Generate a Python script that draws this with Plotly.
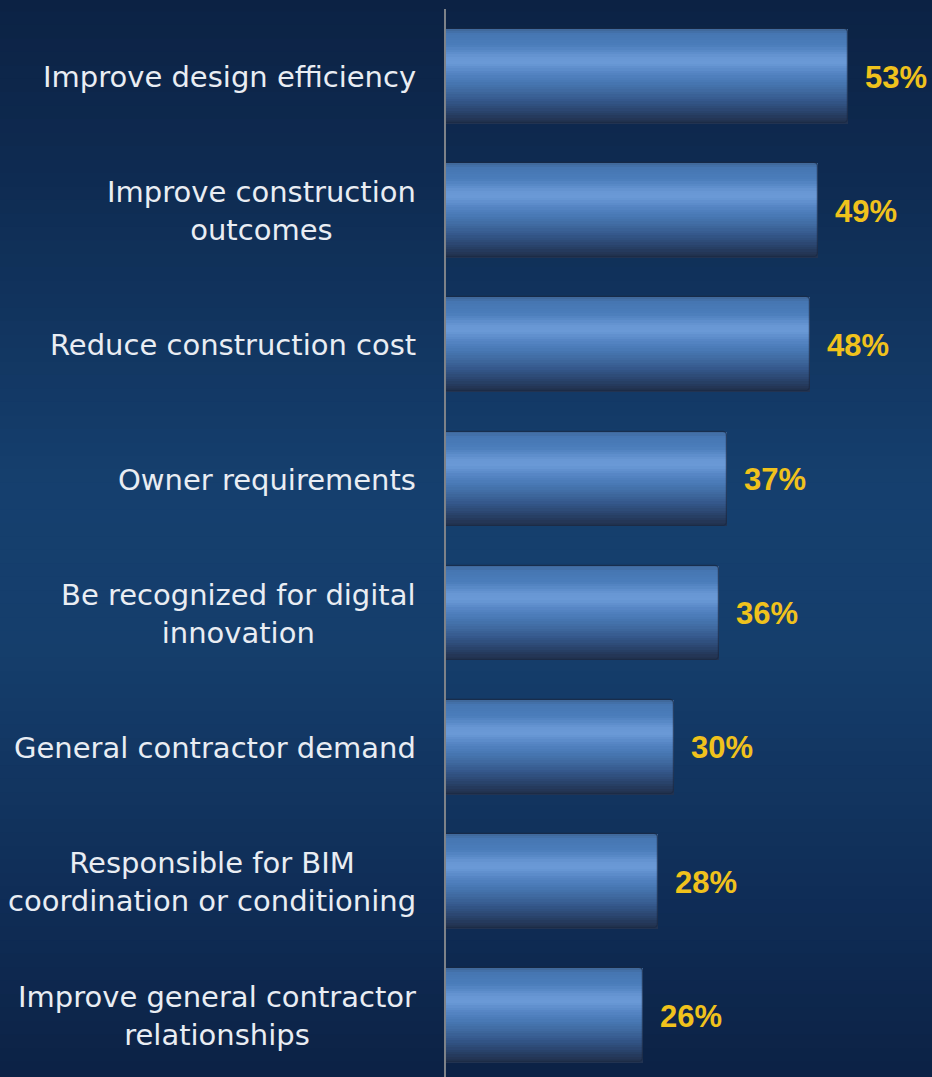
import plotly.graph_objects as go

# Survey reasons, top to bottom, with share of respondents (%)
categories = [
    "Improve design efficiency",
    "Improve construction<br>outcomes",
    "Reduce construction cost",
    "Owner requirements",
    "Be recognized for digital<br>innovation",
    "General contractor demand",
    "Responsible for BIM<br>coordination or conditioning",
    "Improve general contractor<br>relationships",
]
values = [53, 49, 48, 37, 36, 30, 28, 26]
value_labels = ["53%", "49%", "48%", "37%", "36%", "30%", "28%", "26%"]

# Vertical shading of each bar (position from top edge, colour)
bar_stops = [
    (0.00, (0x3f, 0x65, 0x96)),
    (0.06, (0x46, 0x76, 0xb2)),
    (0.18, (0x4b, 0x7d, 0xbb)),
    (0.30, (0x67, 0x96, 0xd3)),
    (0.37, (0x6a, 0x99, 0xd6)),
    (0.47, (0x55, 0x85, 0xc4)),
    (0.57, (0x48, 0x78, 0xb4)),
    (0.67, (0x3f, 0x69, 0x9f)),
    (0.77, (0x34, 0x57, 0x8a)),
    (0.87, (0x2b, 0x46, 0x70)),
    (0.95, (0x24, 0x38, 0x59)),
    (1.00, (0x22, 0x32, 0x4f)),
]

# Background shading from top to bottom of the page
bg_stops = [
    (0.00, (0x0c, 0x22, 0x44)),
    (0.15, (0x0e, 0x2a, 0x50)),
    (0.45, (0x15, 0x3f, 0x6e)),
    (0.60, (0x15, 0x3e, 0x6c)),
    (0.85, (0x0f, 0x2c, 0x55)),
    (1.00, (0x0c, 0x22, 0x45)),
]


def interp(stops, t):
    for (t0, c0), (t1, c1) in zip(stops[:-1], stops[1:]):
        if t0 <= t <= t1:
            f = 0 if t1 == t0 else (t - t0) / (t1 - t0)
            return "rgb({},{},{})".format(*[round(a + (b - a) * f) for a, b in zip(c0, c1)])
    c = stops[-1][1]
    return "rgb({},{},{})".format(*c)


fig = go.Figure()

bar_width = 0.70
n_strips = 40
strip = bar_width / n_strips
for i in range(n_strips):
    t = (i + 0.5) / n_strips
    fig.add_trace(go.Bar(
        y=categories, x=values, orientation="h",
        width=strip * 1.6,
        offset=-bar_width / 2 + i * strip - (strip * 0.3 if i > 0 else 0),
        marker=dict(color=interp(bar_stops, t), line=dict(width=0)),
        hoverinfo="skip", showlegend=False,
    ))

# thin rounded outline around each bar
fig.add_trace(go.Bar(
    y=categories, x=values, orientation="h", width=bar_width,
    marker=dict(color="rgba(0,0,0,0)", line=dict(color="rgba(25,40,65,0.7)", width=1.2),
                cornerradius=4),
    hoverinfo="skip", showlegend=False,
))

shapes = []
n_bg = 80
top_ext = 1 + 9 / 1068
for i in range(n_bg):
    y0 = top_ext - (i + 1) * top_ext / n_bg
    y1 = top_ext - i * top_ext / n_bg + 0.002
    shapes.append(dict(
        type="rect", xref="paper", yref="paper", x0=-1.0, x1=1.1, y0=y0, y1=y1,
        fillcolor=interp(bg_stops, (i + 0.5) / n_bg), line=dict(width=0), layer="below",
    ))

annotations = []
for cat in categories:
    annotations.append(dict(
        x=0, xref="paper", y=cat, yref="y", text=cat, showarrow=False,
        xanchor="right", yanchor="middle", align="center", xshift=-28, yshift=-1,
        font=dict(family="DejaVu Sans", size=29, color="#e9edf3"),
    ))
for cat, v, lab in zip(categories, values, value_labels):
    annotations.append(dict(
        x=v, xref="x", y=cat, yref="y", text="<b>" + lab + "</b>", showarrow=False,
        xanchor="left", yanchor="middle", xshift=15, yshift=-1,
        font=dict(family="Liberation Sans", size=31, color="#f0c21c"),
    ))

fig.update_layout(
    width=932, height=1077,
    margin=dict(l=446, r=0, t=9, b=0),
    paper_bgcolor="#0f2c55", plot_bgcolor="rgba(0,0,0,0)",
    barmode="overlay", bargap=0,
    shapes=shapes, annotations=annotations,
    showlegend=False,
)
fig.update_xaxes(range=[0, 64.07], showgrid=False, zeroline=False, showticklabels=False,
                 showline=False, fixedrange=True)
fig.update_yaxes(type="category", categoryorder="array", categoryarray=categories,
                 range=[7.46, -0.5], showgrid=False, zeroline=False, showticklabels=False,
                 showline=True, linecolor="#7d8289", linewidth=2, ticks="", fixedrange=True)

fig.write_html("out.html")
